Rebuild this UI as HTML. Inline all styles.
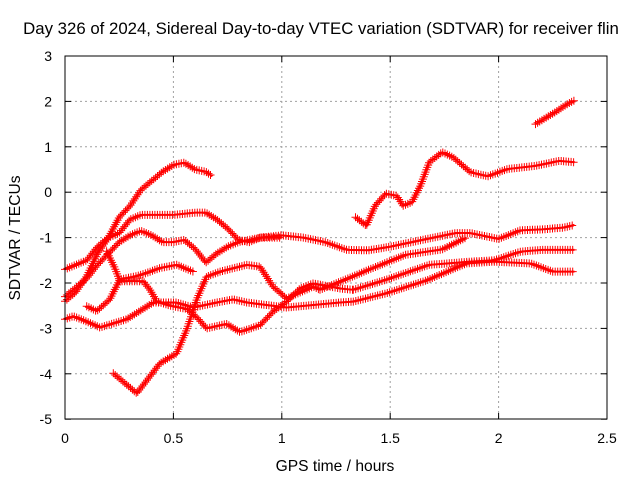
<!DOCTYPE html>
<html><head><meta charset="utf-8"><style>
body{margin:0;background:#fff}
svg text{font-family:"Liberation Sans",sans-serif;fill:#000}
</style></head><body>
<svg id="c" width="640" height="480" viewBox="0 0 640 480">
<rect width="640" height="480" fill="#fff"/>
<text x="321" y="34" font-size="16.8" text-anchor="middle">Day 326 of 2024, Sidereal Day-to-day VTEC variation (SDTVAR) for receiver flin</text>
<text x="335" y="471" font-size="15.6" text-anchor="middle">GPS time / hours</text>
<text transform="translate(20,238) rotate(-90)" font-size="15.6" text-anchor="middle">SDTVAR / TECUs</text>
<g id="grid"></g><g id="series"></g>
<rect x="65" y="56" width="542" height="363" fill="none" stroke="#000" stroke-width="1"/>
<g id="ticks"></g>
</svg>
<script>
const xTicks=[0,0.5,1,1.5,2,2.5];
const xTickLabels=["0","0.5","1","1.5","2","2.5"];
const yTicks=[3,2,1,0,-1,-2,-3,-4,-5];
const yTickLabels=["3","2","1","0","-1","-2","-3","-4","-5"];
const sA=[[0,-2.4],[0.05,-2.2],[0.1,-1.85],[0.15,-1.35],[0.2,-1.0],[0.25,-0.55],[0.3,-0.3],[0.35,0.05],[0.4,0.25],[0.45,0.45],[0.5,0.6],[0.55,0.65],[0.6,0.5],[0.65,0.45],[0.68,0.35]];
const sB=[[0,-1.7],[0.05,-1.6],[0.1,-1.5],[0.15,-1.2],[0.2,-1.0],[0.25,-0.9],[0.3,-0.6],[0.35,-0.5],[0.4,-0.5],[0.5,-0.5],[0.6,-0.45],[0.65,-0.45],[0.7,-0.6],[0.75,-0.8],[0.8,-1.05],[0.85,-1.1],[0.9,-1.0],[1.0,-0.95],[1.1,-1.0],[1.2,-1.1],[1.3,-1.27],[1.4,-1.28],[1.5,-1.2],[1.6,-1.1],[1.7,-1.0],[1.8,-0.9],[1.87,-0.9],[2.0,-1.03],[2.1,-0.84],[2.2,-0.82],[2.3,-0.78],[2.35,-0.72]];
const sC=[[0,-2.3],[0.05,-2.1],[0.1,-1.9],[0.15,-1.6],[0.2,-1.35],[0.25,-1.1],[0.3,-0.95],[0.35,-0.85],[0.4,-0.95],[0.45,-1.1],[0.5,-1.1],[0.55,-1.05],[0.6,-1.25],[0.65,-1.55],[0.7,-1.35],[0.75,-1.2],[0.8,-1.1],[0.9,-1.0],[1.0,-1.0]];
const sG=[[1.176,-2.15],[1.28,-1.95],[1.4,-1.71],[1.57,-1.38],[1.74,-1.26],[1.85,-1.0]];
const sE=[[1.33,-2.15],[1.48,-1.93],[1.68,-1.6],[1.87,-1.53],[1.98,-1.5],[2.1,-1.31],[2.2,-1.27],[2.35,-1.27]];
const sF=[[1.33,-2.41],[1.48,-2.23],[1.67,-1.94],[1.85,-1.57],[1.98,-1.53],[2.15,-1.57],[2.25,-1.75],[2.35,-1.75]];
const sH=[[0.223,-3.99],[0.331,-4.43],[0.438,-3.77],[0.515,-3.55],[0.561,-3.03],[0.607,-2.37],[0.653,-1.86],[0.715,-1.75],[0.838,-1.6],[0.899,-1.64],[0.96,-2.08],[1.022,-2.34],[1.145,-2.08],[1.176,-2.15]];
const sI=[[0,-2.8],[0.038,-2.73],[0.1,-2.85],[0.161,-2.98],[0.284,-2.8],[0.407,-2.43],[0.515,-2.43],[0.592,-2.54],[0.7,-2.43],[0.776,-2.36],[0.838,-2.43],[1.022,-2.54],[1.268,-2.43],[1.33,-2.41]];
const sJ=[[0.1,-2.51],[0.146,-2.62],[0.207,-2.36],[0.253,-1.92],[0.33,-1.85],[0.376,-1.78],[0.438,-1.67],[0.515,-1.6],[0.592,-1.75]];
const sL=[[0.192,-1.3],[0.23,-1.67],[0.253,-1.96],[0.361,-1.96],[0.392,-2.15],[0.423,-2.4],[0.484,-2.5],[0.561,-2.57],[0.607,-2.75],[0.653,-3.0],[0.745,-2.9],[0.807,-3.08],[0.899,-2.93],[0.96,-2.63],[1.022,-2.41],[1.084,-2.12],[1.145,-2.01],[1.268,-2.12],[1.33,-2.15]];
const sN=[[1.34,-0.55],[1.39,-0.74],[1.43,-0.3],[1.48,-0.03],[1.53,-0.08],[1.56,-0.3],[1.6,-0.22],[1.64,0.15],[1.68,0.66],[1.74,0.88],[1.79,0.77],[1.87,0.44],[1.95,0.35],[2.04,0.51],[2.17,0.58],[2.28,0.69],[2.35,0.66]];
const sO=[[2.17,1.5],[2.26,1.76],[2.32,1.95],[2.35,2.02]];
const allSeries=[sA,sB,sC,sG,sE,sF,sH,sI,sJ,sL,sN,sO];
const seriesNames=["a","b","c","g","e","f","h","i","j","l","n","o"];
const NS="http://www.w3.org/2000/svg";
const X=t=>65+216.8*t, Y=v=>192.2-45.4*v;
function mk(tag,at,parent){const e=document.createElementNS(NS,tag);for(const k in at)e.setAttribute(k,at[k]);parent.appendChild(e);return e;}
const grid=document.getElementById('grid'),ticks=document.getElementById('ticks'),ser=document.getElementById('series');
xTicks.forEach((t,i)=>{
 if(i>0&&i<xTicks.length-1){const g=mk('line',{x1:X(t),x2:X(t),y1:56,y2:419,stroke:'#a0a0a0','stroke-dasharray':'2,3'},grid);
 
 }
 mk('line',{x1:X(t),x2:X(t),y1:419,y2:413,stroke:'#000'},ticks);
 mk('line',{x1:X(t),x2:X(t),y1:56,y2:62,stroke:'#000'},ticks);
 const l=mk('text',{x:X(t),y:443,'font-size':14,'text-anchor':'middle'},ticks);l.textContent=xTickLabels[i];
 
 
});
yTicks.forEach((v,i)=>{
 if(i>0&&i<yTicks.length-1){const g=mk('line',{x1:65,x2:607,y1:Y(v),y2:Y(v),stroke:'#a0a0a0','stroke-dasharray':'2,3'},grid);
 
 }
 mk('line',{x1:65,x2:71,y1:Y(v),y2:Y(v),stroke:'#000'},ticks);
 mk('line',{x1:601,x2:607,y1:Y(v),y2:Y(v),stroke:'#000'},ticks);
 const l=mk('text',{x:52,y:Y(v)+5,'font-size':14,'text-anchor':'end'},ticks);l.textContent=yTickLabels[i];
 
 
});
allSeries.forEach((s,si)=>{
 const g=mk('g',{},ser);
 
 
 const pl=mk('polyline',{points:s.map(p=>X(p[0])+','+Y(p[1])).join(' '),fill:'none',stroke:'#f00','stroke-width':2,'stroke-linejoin':'round'},g);
 const len=pl.getTotalLength();
 let d='';
 for(let L=0;L<=len;L+=2.5){const q=pl.getPointAtLength(L);d+=`M${(q.x-4).toFixed(1)},${q.y.toFixed(1)}h8M${q.x.toFixed(1)},${(q.y-4).toFixed(1)}v8`;}
 mk('path',{d:d,stroke:'#f00','stroke-width':1,fill:'none'},g);
});
</script>
</body></html>
